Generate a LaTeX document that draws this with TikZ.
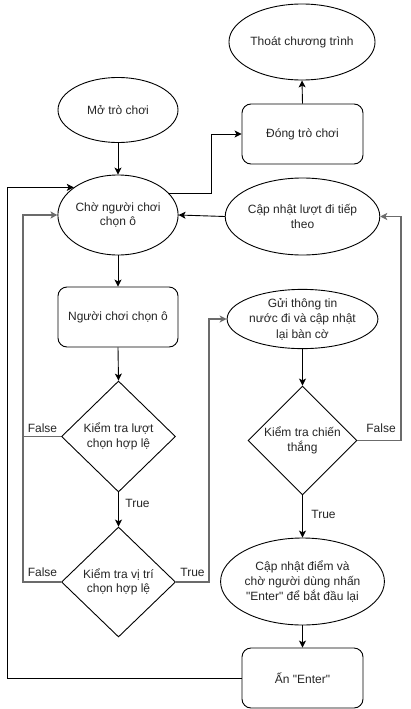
\documentclass[tikz,border=0pt]{standalone}
\usepackage{fontspec}
\setmainfont{Liberation Sans}[Ligatures=TeXOff]
\usetikzlibrary{shapes.geometric,arrows.meta,calc}
\begin{document}
\begin{tikzpicture}[x=1pt,y=-1pt,
  every node/.style={font=\fontsize{12}{14.5}\selectfont, text=black!85},
  ell/.style={ellipse, draw, line width=0.9pt, inner sep=0pt, align=center},
  rbox/.style={rectangle, draw, line width=0.9pt, rounded corners=9pt, minimum width=121pt, minimum height=60pt, inner sep=0pt, align=center},
  dec/.style={diamond, draw, line width=0.9pt, inner sep=0pt, aspect=1, align=center},
  arr/.style={line width=0.9pt, -{Stealth[length=7pt,width=7pt,inset=1.8pt]}},
  garr/.style={line width=1.4pt, draw=black!58, -{Stealth[length=7pt,width=7pt,inset=1.8pt]}},
  gline/.style={line width=1.4pt, draw=black!58},
  lbl/.style={inner sep=0pt}
]
\useasboundingbox (0,0) rectangle (410,709);
\fill[white] (0,0) rectangle (410,709);

% nodes
\node[ell, minimum width=121pt, minimum height=76pt] (thoat) at (302,42) {Thoát chương trình};
\node[ell, minimum width=120pt, minimum height=65pt] (mo) at (118,110) {Mở trò chơi};
\node[rbox] (dong) at (302.5,134) {Đóng trò chơi};
\node[ell, minimum width=120pt, minimum height=80pt] (cho) at (118,215) {Chờ người chơi\\chọn ô};
\node[ell, minimum width=121pt, minimum height=77pt] (capluot) at (302.5,216.5) {Cập nhật lượt đi tiếp\\theo};
\node[rbox, minimum width=120pt] (nguoi) at (118,317) {Người chơi chọn ô};
\node[ell, minimum width=121pt, minimum height=59pt, font=\fontsize{12}{15.5}\selectfont] (gui) at (302.5,319) {Gửi thông tin\\nước đi và cập nhật\\lại bàn cờ};
\node[dec, minimum width=114pt, minimum height=111pt] (d1) at (118.5,436.5) {Kiểm tra lượt\\chọn hợp lệ};
\node[dec, minimum width=109pt, minimum height=109pt] (d3) at (302.5,440.5) {Kiểm tra chiến\\thắng};
\node[dec, minimum width=114pt, minimum height=110pt] (d2) at (118.5,582) {Kiểm tra vị trí\\chọn hợp lệ};
\node[ell, minimum width=135pt, minimum height=87pt, font=\fontsize{12}{15}\selectfont] (capdiem) at (302.5,581.5) {Cập nhật điểm và\\chờ người dùng nhấn\\"Enter" để bắt đầu lại};
\node[rbox] (an) at (302.5,678) {Ấn "Enter"};

% helper coordinates
\coordinate (xA) at (7,0);
\coordinate (xB) at (23,0);
\coordinate (xC) at (211,0);
\coordinate (xD) at (209,0);
\coordinate (xE) at (401,0);

% edges
\draw[arr] (dong.north) -- (thoat.south);
\draw[arr] (mo.south) -- (cho.north);
\draw[arr] (cho.23) -| (xC |- dong.west) -- (dong.west);
\draw[arr] (capluot.west) -- (cho.east);
\draw[arr] (an.west) -| (xA |- cho.148.5) -- (cho.148.5);
\draw[arr] (cho.south) -- (nguoi.north);
\draw[arr] (nguoi.south) -- (d1.north);
\draw[arr] (d1.south) -- (d2.north);
\draw[arr] (gui.south) -- (d3.north);
\draw[arr] (d3.south) -- (capdiem.north);
\draw[arr] (capdiem.south) -- (an.north);

\draw[gline] (d1.west) -| (xB |- cho.west);
\draw[garr] (d2.west) -| (xB |- cho.west) -- (cho.west);
\draw[garr] (d2.east) -| (xD |- gui.west) -- (gui.west);
\draw[garr] (d3.east) -| (xE |- capluot.east) -- (capluot.east);

% labels
\node[lbl] (f1) at (42.5,428) {False};
\node[lbl] (t1) at (137.5,503.5) {True};
\node[lbl] (f2) at (42.5,572) {False};
\node[lbl] (t2) at (192.5,572) {True};
\node[lbl] (f3) at (381,428) {False};
\node[lbl] (t3) at (323.5,514) {True};
\end{tikzpicture}
\end{document}
